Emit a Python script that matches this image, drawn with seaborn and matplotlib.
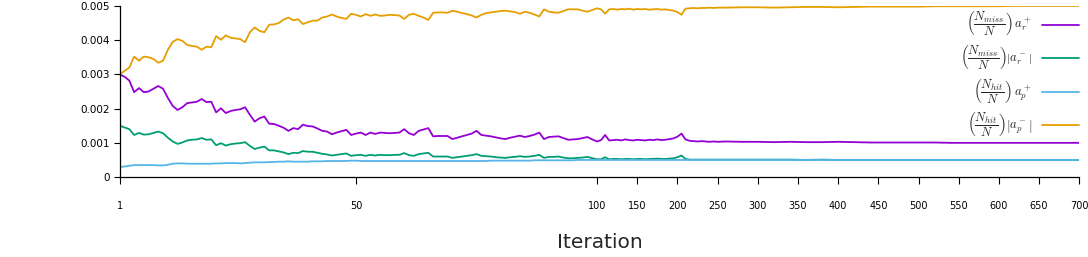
import numpy as np
import pandas as pd
import matplotlib
matplotlib.use("Agg")
import matplotlib.pyplot as plt
import seaborn as sns

# ---------------- data ----------------
early_iters = list(range(1, 101))
late_iters = list(range(105, 251, 5)) + list(range(260, 701, 20))

miss_pos_early = [
    0.00300, 0.00293, 0.00282, 0.00248, 0.00260, 0.00248, 0.00250, 0.00258, 0.00266, 0.00258,
    0.00231, 0.00208, 0.00196, 0.00204, 0.00216, 0.00218, 0.00220, 0.00228, 0.00219, 0.00220,
    0.00189, 0.00201, 0.00187, 0.00193, 0.00196, 0.00198, 0.00204, 0.00182, 0.00162, 0.00172,
    0.00177, 0.00156, 0.00155, 0.00150, 0.00144, 0.00135, 0.00143, 0.00140, 0.00153, 0.00149,
    0.00148, 0.00142, 0.00135, 0.00133, 0.00125, 0.00130, 0.00134, 0.00138, 0.00123, 0.00127,
    0.00130, 0.00123, 0.00130, 0.00126, 0.00130, 0.00129, 0.00128, 0.00129, 0.00130, 0.00140,
    0.00128, 0.00123, 0.00135, 0.00139, 0.00143, 0.00119, 0.00120, 0.00120, 0.00120, 0.00111,
    0.00115, 0.00119, 0.00123, 0.00127, 0.00135, 0.00123, 0.00121, 0.00119, 0.00116, 0.00113,
    0.00111, 0.00115, 0.00118, 0.00121, 0.00117, 0.00120, 0.00124, 0.00130, 0.00111, 0.00117,
    0.00118, 0.00119, 0.00114, 0.00109, 0.00110, 0.00111, 0.00114, 0.00117, 0.00110, 0.00104,
]
miss_pos_late = [
    0.00108, 0.00123, 0.00107, 0.00108, 0.00109, 0.00107, 0.00110, 0.00108, 0.00107, 0.00109,
    0.00108, 0.00107, 0.00109, 0.00108, 0.00110, 0.00108, 0.00109, 0.00111, 0.00113, 0.00118,
    0.00127, 0.00110, 0.00106, 0.00105, 0.00104, 0.00105, 0.00104, 0.00103, 0.00104, 0.00103,
    0.00104, 0.00103, 0.00103, 0.00102, 0.00103, 0.00102, 0.00102, 0.00103, 0.00102, 0.00101,
    0.00101, 0.00101, 0.00101, 0.00101, 0.00100, 0.00100, 0.00100, 0.00100, 0.00100, 0.00100,
    0.00100, 0.00100, 0.00100,
]

miss_neg_early = [
    0.00150, 0.00145, 0.00140, 0.00123, 0.00129, 0.00124, 0.00125, 0.00129, 0.00133, 0.00128,
    0.00115, 0.00104, 0.00097, 0.00101, 0.00107, 0.00109, 0.00110, 0.00114, 0.00109, 0.00110,
    0.00093, 0.00099, 0.00092, 0.00096, 0.00098, 0.00099, 0.00102, 0.00091, 0.00082, 0.00086,
    0.00089, 0.00078, 0.00078, 0.00075, 0.00072, 0.00067, 0.00071, 0.00070, 0.00076, 0.00074,
    0.00074, 0.00071, 0.00068, 0.00066, 0.00063, 0.00065, 0.00067, 0.00069, 0.00062, 0.00064,
    0.00065, 0.00062, 0.00065, 0.00063, 0.00065, 0.00064, 0.00064, 0.00065, 0.00065, 0.00070,
    0.00064, 0.00062, 0.00067, 0.00069, 0.00071, 0.00060, 0.00060, 0.00060, 0.00060, 0.00056,
    0.00058, 0.00060, 0.00062, 0.00064, 0.00067, 0.00062, 0.00061, 0.00060, 0.00058, 0.00057,
    0.00056, 0.00058, 0.00059, 0.00061, 0.00059, 0.00060, 0.00062, 0.00065, 0.00056, 0.00059,
    0.00059, 0.00060, 0.00057, 0.00055, 0.00055, 0.00056, 0.00057, 0.00059, 0.00055, 0.00052,
]
miss_neg_late = [
    0.00052, 0.00058, 0.00052, 0.00053, 0.00053, 0.00052, 0.00053, 0.00053, 0.00052, 0.00053,
    0.00053, 0.00052, 0.00053, 0.00053, 0.00054, 0.00053, 0.00053, 0.00054, 0.00055, 0.00058,
    0.00063, 0.00053, 0.00051, 0.00051, 0.00051, 0.00051, 0.00051, 0.00051, 0.00051, 0.00051,
    0.00051, 0.00051, 0.00051, 0.00051, 0.00051, 0.00050, 0.00051, 0.00050, 0.00050, 0.00050,
    0.00050, 0.00050, 0.00050, 0.00050, 0.00050, 0.00050, 0.00050, 0.00050, 0.00050, 0.00050,
    0.00050, 0.00050, 0.00050,
]

hit_pos_early = [
    0.00029, 0.00031, 0.00033, 0.00035, 0.00035, 0.00035, 0.00035, 0.00035, 0.00034, 0.00034,
    0.00036, 0.00039, 0.00040, 0.00040, 0.00039, 0.00039, 0.00039, 0.00039, 0.00039, 0.00039,
    0.00040, 0.00040, 0.00041, 0.00041, 0.00041, 0.00040, 0.00041, 0.00042, 0.00043, 0.00043,
    0.00043, 0.00044, 0.00044, 0.00045, 0.00045, 0.00046, 0.00045, 0.00045, 0.00045, 0.00045,
    0.00046, 0.00046, 0.00046, 0.00047, 0.00047, 0.00047, 0.00047, 0.00047, 0.00048, 0.00048,
    0.00047, 0.00047, 0.00047, 0.00047, 0.00047, 0.00047, 0.00047, 0.00047, 0.00047, 0.00047,
    0.00047, 0.00047, 0.00047, 0.00047, 0.00047, 0.00047, 0.00047, 0.00047, 0.00047, 0.00047,
    0.00047, 0.00047, 0.00047, 0.00047, 0.00047, 0.00047, 0.00047, 0.00048, 0.00048, 0.00048,
    0.00048, 0.00048, 0.00048, 0.00048, 0.00048, 0.00048, 0.00049, 0.00049, 0.00049, 0.00049,
    0.00049, 0.00049, 0.00049, 0.00049, 0.00049, 0.00050, 0.00050, 0.00050, 0.00050, 0.00050,
]
hit_pos_late = [0.00050] * 53

hit_neg_early = [
    0.00300, 0.00310, 0.00320, 0.00352, 0.00340, 0.00352, 0.00350, 0.00345, 0.00334, 0.00340,
    0.00372, 0.00395, 0.00403, 0.00398, 0.00386, 0.00383, 0.00381, 0.00372, 0.00381, 0.00379,
    0.00412, 0.00401, 0.00414, 0.00407, 0.00405, 0.00403, 0.00394, 0.00423, 0.00437, 0.00427,
    0.00423, 0.00445, 0.00446, 0.00450, 0.00460, 0.00466, 0.00458, 0.00461, 0.00447, 0.00452,
    0.00457, 0.00457, 0.00466, 0.00469, 0.00475, 0.00469, 0.00465, 0.00462, 0.00477, 0.00474,
    0.00469, 0.00476, 0.00471, 0.00475, 0.00471, 0.00472, 0.00474, 0.00473, 0.00472, 0.00462,
    0.00474, 0.00477, 0.00471, 0.00466, 0.00459, 0.00480, 0.00481, 0.00481, 0.00480, 0.00486,
    0.00483, 0.00479, 0.00476, 0.00472, 0.00466, 0.00474, 0.00479, 0.00481, 0.00483, 0.00485,
    0.00486, 0.00484, 0.00482, 0.00477, 0.00483, 0.00480, 0.00475, 0.00469, 0.00490, 0.00483,
    0.00481, 0.00480, 0.00485, 0.00490, 0.00490, 0.00490, 0.00486, 0.00483, 0.00488, 0.00493,
]
hit_neg_late = [
    0.00490, 0.00477, 0.00490, 0.00491, 0.00489, 0.00491, 0.00490, 0.00492, 0.00489, 0.00491,
    0.00490, 0.00491, 0.00489, 0.00490, 0.00491, 0.00489, 0.00490, 0.00488, 0.00486, 0.00482,
    0.00474, 0.00492, 0.00493, 0.00494, 0.00493, 0.00494, 0.00494, 0.00495, 0.00494, 0.00495,
    0.00495, 0.00496, 0.00496, 0.00495, 0.00496, 0.00497, 0.00497, 0.00496, 0.00497, 0.00498,
    0.00498, 0.00498, 0.00498, 0.00499, 0.00499, 0.00499, 0.00499, 0.00499, 0.00500, 0.00500,
    0.00500, 0.00500, 0.00500,
]

series_labels = [
    r"$\left(\dfrac{N_{miss}}{N}\right)\,a_r^+$",
    r"$\left(\dfrac{N_{miss}}{N}\right)\left|a_r^-\right|$",
    r"$\left(\dfrac{N_{hit}}{N}\right)\,a_p^+$",
    r"$\left(\dfrac{N_{hit}}{N}\right)\left|a_p^-\right|$",
]
series_colors = ["#9400D3", "#009E73", "#56B4E9", "#E69F00"]
x_ticks = [1, 50, 100, 150, 200, 250, 300, 350, 400, 450, 500, 550, 600, 650, 700]
y_ticks = [0, 0.001, 0.002, 0.003, 0.004, 0.005]
y_tick_labels = ["0", "0.001", "0.002", "0.003", "0.004", "0.005"]

# ---------------- build table ----------------
iters = early_iters + late_iters
frames = []
for lab, e, l in zip(series_labels,
                     [miss_pos_early, miss_neg_early, hit_pos_early, hit_neg_early],
                     [miss_pos_late, miss_neg_late, hit_pos_late, hit_neg_late]):
    frames.append(pd.DataFrame({"Iteration": iters, "value": e + l, "series": lab}))
df = pd.concat(frames, ignore_index=True)

# ---------------- plot ----------------
sns.set_style("ticks")
plt.rcParams["font.family"] = ["DejaVu Sans"]
plt.rcParams["mathtext.fontset"] = "cm"

fig = plt.figure(figsize=(10.88, 2.57), dpi=100)
ax = fig.add_axes([0.110, 0.311, 0.882, 0.666])


def fwd(x):
    x = np.asarray(x, dtype=float)
    return np.where(x <= 100, x, 100 + (x - 100) / 6.0)


def inv(u):
    u = np.asarray(u, dtype=float)
    return np.where(u <= 100, u, 100 + (u - 100) * 6.0)


ax.set_xscale("function", functions=(fwd, inv))

sns.lineplot(data=df, x="Iteration", y="value", hue="series",
             hue_order=series_labels, palette=series_colors,
             estimator=None, linewidth=1.3, legend=False, ax=ax)

ax.set_xlim(1, 700)
ax.set_ylim(0, 0.005)
ax.set_xticks(x_ticks)
ax.set_xticklabels([str(t) for t in x_ticks], fontsize=7)
ax.set_yticks(y_ticks)
ax.set_yticklabels(y_tick_labels, fontsize=7.5)
ax.minorticks_off()
ax.tick_params(axis="x", direction="out", length=5, width=0.8, pad=12, colors="black")
ax.tick_params(axis="y", direction="out", length=4, width=0.8, pad=3, colors="black")
ax.set_xlabel("Iteration", fontsize=14.5, labelpad=16)
ax.set_ylabel("")
sns.despine(ax=ax)
for s in ["left", "bottom"]:
    ax.spines[s].set_color("black")
    ax.spines[s].set_linewidth(0.9)

handles = ax.lines[:4]
ax.legend(handles, series_labels, loc="upper right", bbox_to_anchor=(1.0, 0.975),
          frameon=False, markerfirst=False, fontsize=9, handlelength=3.0,
          labelspacing=0.45, borderaxespad=0, borderpad=0, handletextpad=0.8)

fig.savefig("out.png", dpi=100)
